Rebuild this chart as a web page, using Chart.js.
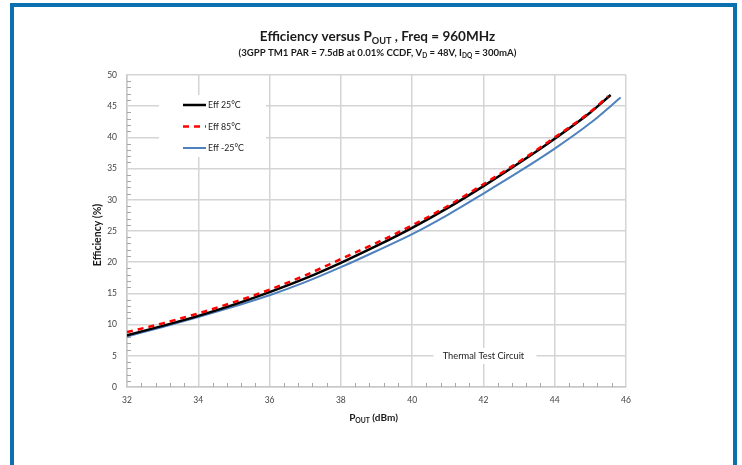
<!DOCTYPE html>
<html><head><meta charset="utf-8">
<script src="https://cdn.jsdelivr.net/npm/chart.js@4"></script>
<style>
html,body{margin:0;padding:0;background:#fff;}
#wrap{position:relative;width:742px;height:465px;overflow:hidden;}
#frame{position:absolute;left:10px;top:3px;width:719px;height:480px;border:4px solid #0b70b0;border-bottom:none;pointer-events:none;}
canvas{display:block;}
</style></head><body>
<div id="wrap"><canvas id="c" width="742" height="465" style="width:742px;height:465px"></canvas><div id="frame"></div></div>
<script>
// ---- data ----
const pout25 = [32, 33, 34, 35, 36, 37, 38, 39, 40, 41, 42, 43, 44, 45, 45.57];
const eff25  = [8.3, 9.8, 11.4, 13.2, 15.2, 17.4, 19.9, 22.6, 25.5, 28.7, 32.2, 35.9, 39.8, 44.0, 46.8];
const pout85 = [32, 33, 34, 35, 36, 37, 38, 39, 40, 41, 42, 43, 44, 45, 45.5];
const eff85  = [8.8, 10.2, 11.8, 13.6, 15.6, 17.9, 20.5, 23.1, 25.9, 29.0, 32.5, 36.1, 40.0, 44.1, 46.6];
const poutM25 = [32, 33, 34, 35, 36, 37, 38, 39, 40, 41, 42, 43, 44, 45, 45.85];
const effM25  = [8.1, 9.6, 11.2, 12.9, 14.7, 16.8, 19.2, 21.8, 24.5, 27.6, 31.0, 34.5, 38.2, 42.3, 46.4];
const seriesLabels = ['Eff 25°C', 'Eff 85°C', 'Eff -25°C'];
const xTicks = [32, 34, 36, 38, 40, 42, 44, 46];
const yTicks = [0, 5, 10, 15, 20, 25, 30, 35, 40, 45, 50];
const annotationText = 'Thermal Test Circuit';
const annotationAt = {x: 42, y: 5};

const FONT = 'Lato, "Open Sans", sans-serif';
const toPts = (xs, ys) => xs.map((x, i) => ({x: x, y: ys[i]}));

function drawRich(ctx, parts, cx, y, size) {
  const subSize = size * 0.68;
  let total = 0;
  const widths = parts.map(p => {
    ctx.font = 'bold ' + (p[1] ? subSize : size) + 'px ' + FONT;
    const w = ctx.measureText(p[0]).width;
    total += w;
    return w;
  });
  let x = cx - total / 2;
  ctx.textAlign = 'left';
  ctx.textBaseline = 'alphabetic';
  parts.forEach((p, i) => {
    ctx.font = 'bold ' + (p[1] ? subSize : size) + 'px ' + FONT;
    ctx.fillText(p[0], x, y + (p[1] ? size * 0.22 : 0));
    x += widths[i];
  });
}

const decor = {
  id: 'decor',
  beforeDatasetsDraw(chart) {
    const ctx = chart.ctx, a = chart.chartArea;
    const xs = chart.scales.x, ys = chart.scales.y;
    ctx.save();
    ctx.strokeStyle = '#a6a6a6';
    ctx.lineWidth = 1;
    ctx.beginPath();
    for (let v = 1; v < 50; v++) {
      if (v % 5 === 0) continue;
      const py = Math.round(ys.getPixelForValue(v)) + 0.5;
      ctx.moveTo(a.left, py); ctx.lineTo(a.left + 4, py);
    }
    for (let k = 1; k < 35; k++) {
      if (k % 5 === 0) continue;
      const px = Math.round(xs.getPixelForValue(32 + k * 0.4)) + 0.5;
      ctx.moveTo(px, a.bottom); ctx.lineTo(px, a.bottom - 4);
    }
    ctx.stroke();
    ctx.fillStyle = '#fff';
    ctx.fillRect(a.left + 32, a.top + 20, 107, 62);
    const ax = xs.getPixelForValue(annotationAt.x), ay = ys.getPixelForValue(annotationAt.y);
    ctx.fillRect(ax - 50, ay - 8, 103, 16);
    ctx.restore();
  },
  afterDraw(chart) {
    const ctx = chart.ctx, a = chart.chartArea;
    const xs = chart.scales.x, ys = chart.scales.y;
    ctx.save();
    ctx.fillStyle = '#1a1a1a';
    const cx = (a.left + a.right) / 2;
    drawRich(ctx, [['Efficiency versus P', false], ['OUT', true], [' , Freq = 960MHz', false]], cx + 1, 41, 13.5);
    drawRich(ctx, [['(3GPP TM1 PAR = 7.5dB at 0.01% CCDF, V', false], ['D', true], [' = 48V, I', false], ['DQ', true], [' = 300mA)', false]], cx + 1, 56, 9.6);
    drawRich(ctx, [['P', false], ['OUT', true], [' (dBm)', false]], cx - 3, 421, 10);
    ctx.save();
    ctx.translate(101, (a.top + a.bottom) / 2 + 4);
    ctx.rotate(-Math.PI / 2);
    drawRich(ctx, [['Efficiency (%)', false]], 0, 0, 10.5);
    ctx.restore();
    const ds = chart.data.datasets;
    ds.forEach((d, i) => {
      const ly = a.top + 30 + i * 21.5;
      ctx.strokeStyle = d.borderColor;
      ctx.lineWidth = d.borderWidth;
      ctx.setLineDash(d.borderDash || []);
      ctx.beginPath();
      ctx.moveTo(a.left + 56, ly); ctx.lineTo(a.left + 79, ly);
      ctx.stroke();
      ctx.setLineDash([]);
      ctx.fillStyle = '#222';
      ctx.font = '8.8px ' + FONT;
      ctx.textAlign = 'left';
      ctx.textBaseline = 'middle';
      ctx.fillText(d.label, a.left + 81, ly + 0.5);
    });
    const ax = xs.getPixelForValue(annotationAt.x), ay = ys.getPixelForValue(annotationAt.y);
    ctx.fillStyle = '#222';
    ctx.font = '9.3px ' + FONT;
    ctx.textAlign = 'center';
    ctx.textBaseline = 'middle';
    ctx.fillText(annotationText, ax, ay + 0.5);
    ctx.restore();
  }
};

new Chart(document.getElementById('c'), {
  type: 'scatter',
  data: {
    datasets: [
      {label: seriesLabels[0], data: toPts(pout25, eff25), showLine: true, borderColor: '#000000', borderWidth: 2.5, pointRadius: 0, cubicInterpolationMode: 'monotone', order: 2},
      {label: seriesLabels[1], data: toPts(pout85, eff85), showLine: true, borderColor: '#ff0000', borderWidth: 2.5, borderDash: [6, 5], pointRadius: 0, cubicInterpolationMode: 'monotone', order: 1},
      {label: seriesLabels[2], data: toPts(poutM25, effM25), showLine: true, borderColor: '#4f81bd', borderWidth: 2, pointRadius: 0, cubicInterpolationMode: 'monotone', order: 3}
    ]
  },
  options: {
    responsive: false,
    animation: false,
    devicePixelRatio: 1,
    layout: {padding: {left: 87, right: 116, top: 75, bottom: 48}},
    plugins: {legend: {display: false}, tooltip: {enabled: false}, title: {display: false}},
    scales: {
      x: {
        type: 'linear', min: 32, max: 46,
        afterBuildTicks: s => { s.ticks = xTicks.map(v => ({value: v})); },
        afterFit: s => { s.height = 30; },
        grid: {color: '#d4d4d4', lineWidth: 1.5, drawTicks: false},
        border: {display: true, color: '#c8c8c8', width: 1.5},
        ticks: {padding: 8, color: '#444', font: {family: FONT, size: 8.5}, maxRotation: 0}
      },
      y: {
        type: 'linear', min: 0, max: 50,
        afterBuildTicks: s => { s.ticks = yTicks.map(v => ({value: v})); },
        afterFit: s => { s.width = 40; },
        grid: {color: '#d4d4d4', lineWidth: 1.5, drawTicks: false},
        border: {display: true, color: '#c8c8c8', width: 1.5},
        ticks: {padding: 10, color: '#444', font: {family: FONT, size: 8.5}}
      }
    }
  },
  plugins: [decor]
});
</script>
</body></html>
